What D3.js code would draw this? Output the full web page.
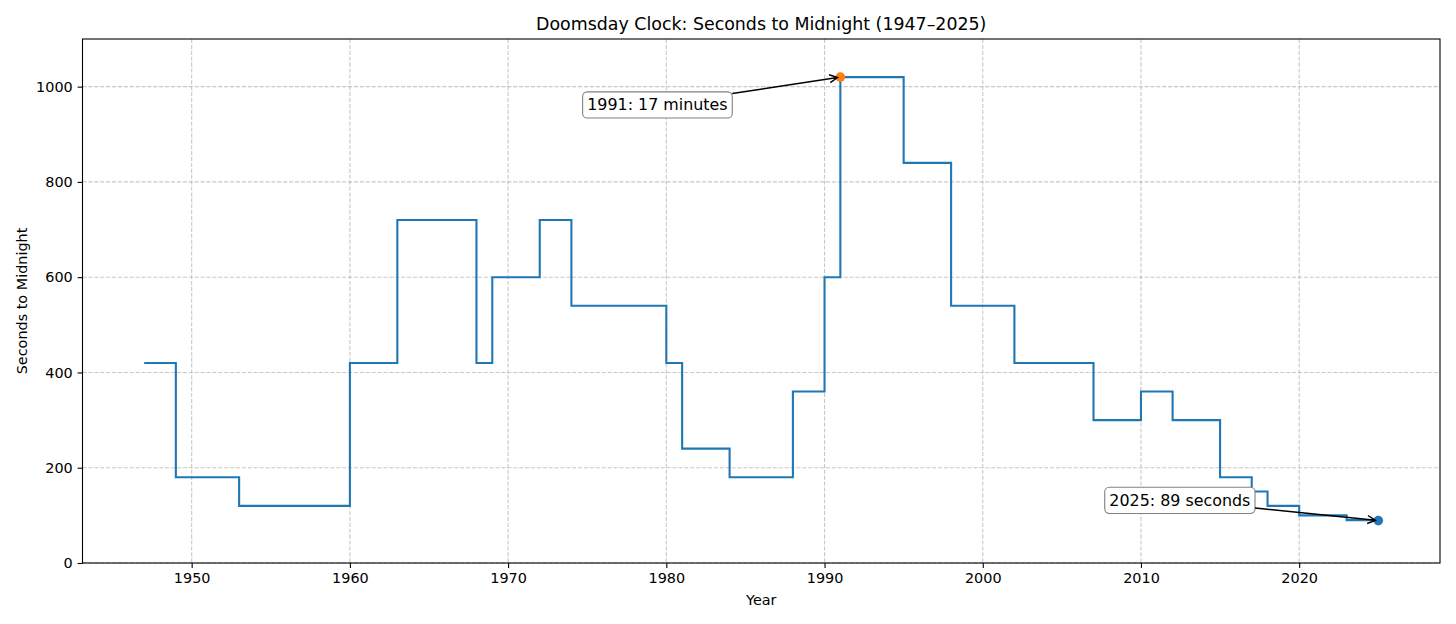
<!DOCTYPE html>
<html lang="en">
<head>
<meta charset="utf-8">
<script src="https://d3js.org/d3.v7.min.js"></script>
<title>Doomsday Clock</title>
<style>
  body { margin: 0; background: #fff; }
  svg text { font-family: "DejaVu Sans", sans-serif; fill: #000; }
</style>
</head>
<body>
<div id="chart"></div>
<script>
// clock settings, seconds to midnight
var years   = [1947, 1949, 1953, 1960, 1963, 1968, 1969, 1972, 1974, 1980, 1981, 1984, 1988, 1990, 1991, 1995, 1998, 2002, 2007, 2010, 2012, 2015, 2017, 2018, 2020, 2023, 2025];
var seconds = [420, 180, 120, 420, 720, 420, 600, 720, 540, 420, 240, 180, 360, 600, 1020, 840, 540, 420, 300, 360, 300, 180, 150, 120, 100, 90, 89];
var xTicks = [1950, 1960, 1970, 1980, 1990, 2000, 2010, 2020];
var yTicks = [0, 200, 400, 600, 800, 1000];
var notes = [
  {year: 1991, value: 1020, label: "1991: 17 minutes", tx: 1975, ty: 950, color: "#ff7f0e"},
  {year: 2025, value: 89, label: "2025: 89 seconds", tx: 2008, ty: 120, color: "#1f77b4"}
];

var W = 1456, H = 624;
var margin = {top: 39, right: 16, bottom: 61, left: 82.5};
var width = W - margin.left - margin.right,
    height = H - margin.top - margin.bottom;

var svg = d3.select("#chart").append("svg")
    .attr("width", W).attr("height", H);
var g = svg.append("g")
    .attr("transform", "translate(" + margin.left + "," + margin.top + ")");

var span = years[years.length - 1] - years[0];
var x = d3.scaleLinear()
    .domain([years[0] - span * 0.05, years[years.length - 1] + span * 0.05])
    .range([0, width]);
var y = d3.scaleLinear().domain([0, 1100]).range([height, 0]);

// grid
g.append("g").selectAll("line").data(xTicks).enter().append("line")
    .attr("x1", d => x(d)).attr("x2", d => x(d))
    .attr("y1", 0).attr("y2", height)
    .attr("stroke", "#b0b0b0").attr("stroke-opacity", 0.7)
    .attr("stroke-width", 1.1).attr("stroke-dasharray", "4.1,1.8");
g.append("g").selectAll("line").data(yTicks).enter().append("line")
    .attr("x1", 0).attr("x2", width)
    .attr("y1", d => y(d)).attr("y2", d => y(d))
    .attr("stroke", "#b0b0b0").attr("stroke-opacity", 0.7)
    .attr("stroke-width", 1.1).attr("stroke-dasharray", "4.1,1.8");

// axes
var xAxis = g.append("g")
    .attr("transform", "translate(0," + height + ")")
    .call(d3.axisBottom(x).tickValues(xTicks).tickFormat(d3.format("d")).tickSize(4.9).tickPadding(4.9));
var yAxis = g.append("g")
    .call(d3.axisLeft(y).tickValues(yTicks).tickFormat(d3.format("d")).tickSize(4.9).tickPadding(4.9));
[xAxis, yAxis].forEach(function(a) {
  a.attr("font-size", null).attr("font-family", null);
  a.select(".domain").remove();
  a.selectAll("line").attr("stroke", "#000").attr("stroke-width", 1.1);
  a.selectAll("text").style("font-size", "14.4px");
});

// step line
var pts = years.map(function(d, i) { return [d, seconds[i]]; });
g.append("path").datum(pts)
    .attr("d", d3.line().x(d => x(d[0])).y(d => y(d[1])).curve(d3.curveStepAfter))
    .attr("fill", "none").attr("stroke", "#1f77b4").attr("stroke-width", 2.1);

// frame
g.append("rect").attr("width", width).attr("height", height)
    .attr("fill", "none").attr("stroke", "#000").attr("stroke-width", 1.1);

// annotations
notes.forEach(function(n) {
  var px = x(n.year), py = y(n.value);
  g.append("circle").attr("cx", px).attr("cy", py).attr("r", 4.8).attr("fill", n.color);

  var box = g.append("rect");
  var t = g.append("text").attr("x", x(n.tx)).attr("y", y(n.ty))
      .style("font-size", "15.9px").text(n.label);
  var bb = t.node().getBBox();
  var pad = 4.6;
  var bx = bb.x - pad, by = bb.y - pad + 1, bw = bb.width + 2 * pad, bh = bb.height + 2 * pad - 2;
  box.attr("x", bx).attr("y", by).attr("width", bw).attr("height", bh)
      .attr("rx", 4.6).attr("fill", "#fff").attr("stroke", "#808080").attr("stroke-width", 1.1);

  // arrow from box center to point, clipped at box edge
  var cx = bx + bw / 2, cy = by + bh / 2;
  var dx = px - cx, dy = py - cy;
  var tEdge = Math.min(Math.abs((bw / 2) / dx), Math.abs((bh / 2) / dy));
  var sx = cx + dx * tEdge, sy = cy + dy * tEdge;
  var len = Math.sqrt(dx * dx + dy * dy);
  var ux = dx / len, uy = dy / len;
  var ex = px - ux * 2.8, ey = py - uy * 2.8;
  var hl = 8, hw = 4;
  var ax1 = ex - ux * hl - uy * hw, ay1 = ey - uy * hl + ux * hw;
  var ax2 = ex - ux * hl + uy * hw, ay2 = ey - uy * hl - ux * hw;
  g.append("path")
      .attr("d", "M" + sx + "," + sy + "L" + ex + "," + ey +
                 "M" + ax1 + "," + ay1 + "L" + ex + "," + ey + "L" + ax2 + "," + ay2)
      .attr("fill", "none").attr("stroke", "#000").attr("stroke-width", 1.4);
});

// labels
svg.append("text").attr("x", margin.left + width / 2).attr("y", 29.5)
    .attr("text-anchor", "middle").style("font-size", "17.4px")
    .text("Doomsday Clock: Seconds to Midnight (1947–2025)");
svg.append("text").attr("x", margin.left + width / 2).attr("y", 605)
    .attr("text-anchor", "middle").style("font-size", "14.4px").text("Year");
svg.append("text").attr("transform", "translate(26.5," + (margin.top + height / 2) + ") rotate(-90)")
    .attr("text-anchor", "middle").style("font-size", "14.4px").text("Seconds to Midnight");
</script>
</body>
</html>
